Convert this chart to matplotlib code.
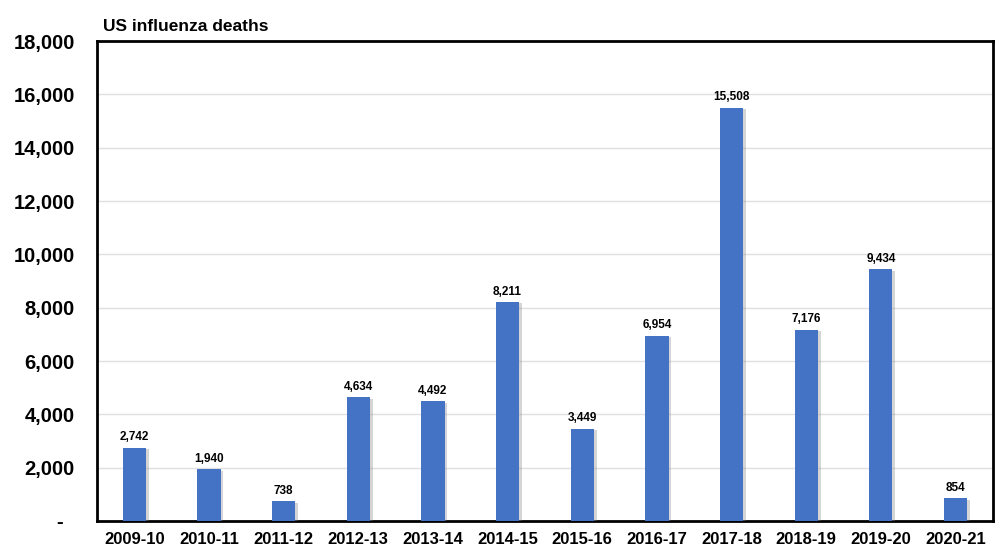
import matplotlib
matplotlib.use("Agg")
import matplotlib.pyplot as plt
import matplotlib.patheffects as pe
from matplotlib.ticker import FuncFormatter

seasons = ["2009-10", "2010-11", "2011-12", "2012-13", "2013-14", "2014-15",
           "2015-16", "2016-17", "2017-18", "2018-19", "2019-20", "2020-21"]
deaths = [2742, 1940, 738, 4634, 4492, 8211, 3449, 6954, 15508, 7176, 9434, 854]
yticks = [0, 2000, 4000, 6000, 8000, 10000, 12000, 14000, 16000, 18000]

plt.rcParams['font.family'] = ['Liberation Sans', 'DejaVu Sans']

fig = plt.figure(figsize=(10.07, 5.56), dpi=100)
ax = fig.add_axes([0.0963, 0.063, 0.8897, 0.863])

x = range(len(seasons))
bars = ax.bar(x, deaths, width=0.31, color="#4472C4", zorder=3)
for b in bars:
    b.set_path_effects([pe.SimplePatchShadow(offset=(2, -1), shadow_rgbFace="#888888", alpha=0.35), pe.Normal()])

for xi, v in zip(x, deaths):
    ax.text(xi, v + 170, f"{v:,}", ha="center", va="bottom", fontsize=8.5, fontweight="bold")

ax.set_xlim(-0.5, len(seasons) - 0.5)
ax.set_ylim(0, 18000)
ax.set_yticks(yticks)
ax.yaxis.set_major_formatter(FuncFormatter(lambda v, p: "-  " if v == 0 else f"{int(v):,}"))
ax.set_xticks(list(x))
ax.set_xticklabels(seasons)
ax.tick_params(axis="y", length=0, labelsize=14.5, pad=16)
ax.tick_params(axis="x", length=0, labelsize=12, pad=8)
for lbl in ax.get_yticklabels() + ax.get_xticklabels():
    lbl.set_fontweight("bold")

ax.grid(axis="y", color="#E0E0E0", linewidth=1, zorder=0)
for s in ax.spines.values():
    s.set_linewidth(2)
    s.set_color("black")

fig.text(0.102, 0.953, "US influenza deaths", fontsize=12.5, fontweight="bold", ha="left", va="center")

fig.savefig("out.png", dpi=100)
